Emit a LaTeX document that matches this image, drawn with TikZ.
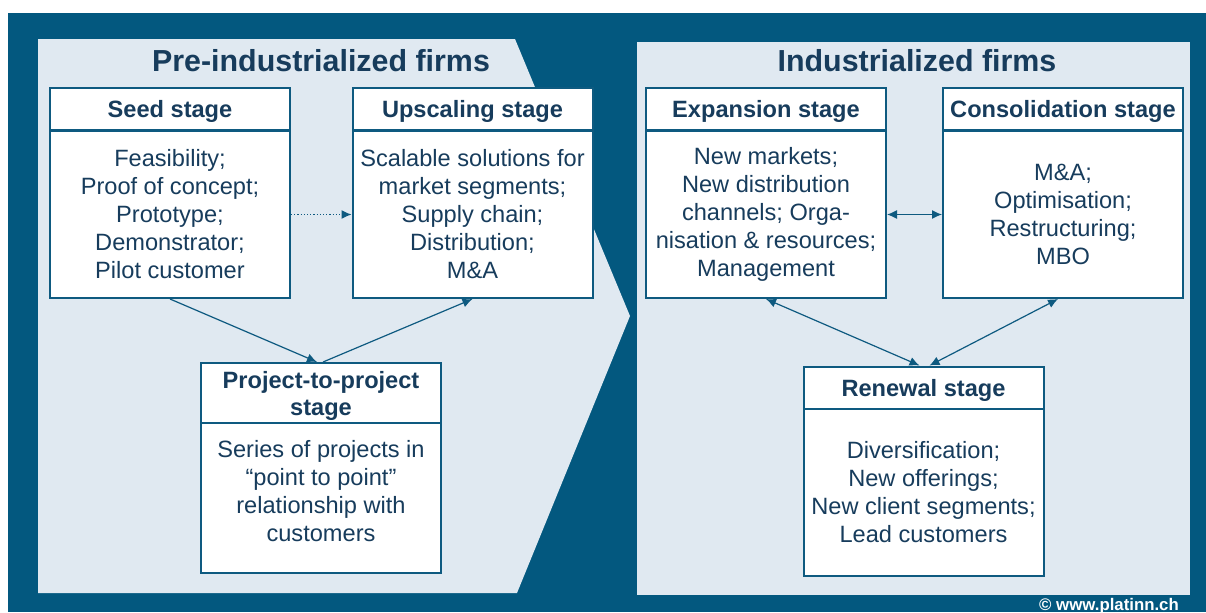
\documentclass[tikz,border=0pt]{standalone}
\usepackage{fontspec}
\setmainfont{Liberation Sans}
\usetikzlibrary{arrows.meta}
\definecolor{platdark}{HTML}{03587F}
\definecolor{platlight}{HTML}{E0E9F1}
\definecolor{plattext}{HTML}{173C5C}
\definecolor{platline}{HTML}{0E5A80}
\tikzset{
  stagehead/.style={draw=platline, line width=1pt, fill=white, text=plattext, inner sep=0pt,
    align=center, minimum width=120pt, minimum height=21pt, text depth=0pt,
    font=\bfseries\fontsize{11.8}{13.5}\selectfont},
  stagebody/.style={draw=platline, line width=1pt, fill=white, text=plattext, inner sep=0pt,
    align=center, minimum width=120pt, minimum height=83.5pt,
    font=\fontsize{11.8}{14}\selectfont},
  paneltitle/.style={anchor=base, text=plattext, font=\bfseries\fontsize{15.2}{18}\selectfont},
  link/.style={draw=platline, line width=0.6pt, -{Latex[length=5pt,width=4.5pt]}},
  twolink/.style={link, {Latex[length=5pt,width=4.5pt]}-{Latex[length=5pt,width=4.5pt]}},
}
\begin{document}
\begin{tikzpicture}[x=0.5pt, y=-0.5pt]
            \useasboundingbox (0,0) rectangle (1206,612);
            \fill[white] (0,0) rectangle (1206,612);
            \fill[platdark] (8,13) rectangle (1206,612);
            \fill[platlight] (38,39) -- (515,39) -- (630,316) -- (517,593) -- (38,593) -- cycle;
            \fill[platlight] (637,42) rectangle (1190,595);

            \node[paneltitle] (pretitle) at (321,71) {Pre-industrialized firms};
            \node[paneltitle] (indtitle) at (917,71) {Industrialized firms};

            \node[stagehead] (seedhead) at (170,109) {Seed stage};
            \node[stagebody] (seedbody) at (170,214.5) {Feasibility;\\Proof of concept;\\Prototype;\\Demonstrator;\\Pilot customer};

            \node[stagehead] (uphead) at (472.5,109) {Upscaling stage};
            \node[stagebody] (upbody) at (472.5,214.5) {Scalable solutions for\\market segments;\\Supply chain;\\Distribution;\\M\&A};

            \node[stagehead, minimum height=30pt] (projhead) at (321,393) {Project-to-project\\stage};
            \node[stagebody, minimum height=75pt] (projbody) at (321,498) {};
            \node[stagebody, draw=none, fill=none, minimum height=0pt] (projtext) at (321,491) {Series of projects in\\``point to point''\\relationship with\\customers};

            \node[stagehead] (exphead) at (766,109) {Expansion stage};
            \node[stagebody] (expbody) at (766,214.5) {New markets;\\New distribution\\channels; Orga-\\nisation \& resources;\\Management};

            \node[stagehead] (conshead) at (1063,109) {Consolidation stage};
            \node[stagebody] (consbody) at (1063,214.5) {M\&A;\\Optimisation;\\Restructuring;\\MBO};

            \node[stagehead] (renhead) at (923.5,387.5) {Renewal stage};
            \node[stagebody] (renbody) at (923.5,492.5) {Diversification;\\New offerings;\\New client segments;\\Lead customers};

            \draw[link, densely dotted] (seedbody) -- (upbody);
            \draw[link] (seedbody.south) -- ([xshift=-2pt]projhead.north);
            \draw[link] ([xshift=1pt]projhead.north) -- (upbody.south);
            \draw[twolink] (expbody) -- (consbody);
            \draw[twolink] (expbody.south) -- ([xshift=-2pt]renhead.north);
            \draw[twolink] ([xshift=-2.5pt]consbody.south) -- ([xshift=3pt]renhead.north);

            \node[anchor=base, text=white, font=\bfseries\fontsize{8.4}{10}\selectfont] (copyright) at (1109,610) {\textcopyright{} www.platinn.ch};
        \end{tikzpicture}
\end{document}
